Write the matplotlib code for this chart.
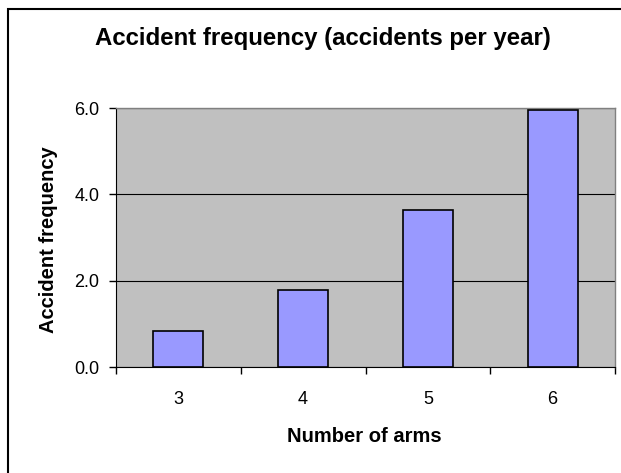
import matplotlib
matplotlib.use("Agg")
import matplotlib.pyplot as plt
from matplotlib.patches import Rectangle

categories = ["3", "4", "5", "6"]
values = [0.83, 1.78, 3.63, 5.96]
yticks = [0.0, 2.0, 4.0, 6.0]
ytick_labels = ["0.0", "2.0", "4.0", "6.0"]

plt.rcParams['font.family'] = ['Liberation Sans', 'DejaVu Sans']

W, H = 621, 473
fig = plt.figure(figsize=(W / 100, H / 100), dpi=100)
fig.patch.set_facecolor("white")

# outer chart border (extends beyond the right/bottom edges)
fig.patches.append(Rectangle((8 / W, -0.1), 1.2, (H - 9) / H + 0.1,
                             transform=fig.transFigure, fill=False,
                             edgecolor="black", linewidth=1.5))

ax = fig.add_axes([116 / W, (H - 367) / H, (615 - 116) / W, (367 - 108) / H])
ax.set_facecolor("#C0C0C0")
x = list(range(len(categories)))
ax.bar(x, values, width=0.4, color="#9999FF", edgecolor="black",
       linewidth=1.2, zorder=3)
ax.set_xlim(-0.5, len(categories) - 0.5)
ax.set_ylim(0, 6.0)
ax.set_yticks(yticks)
ax.set_yticklabels(ytick_labels)
ax.yaxis.grid(True, color="black", linewidth=0.8, zorder=1)
ax.set_axisbelow(True)

ax.set_xticks(x)
ax.set_xticklabels(categories)
ax.tick_params(axis="x", length=0, pad=17, labelsize=13)
ax.set_xticks([i - 0.5 for i in range(len(categories) + 1)], minor=True)
ax.tick_params(axis="x", which="minor", length=5, width=1, direction="out")
ax.tick_params(axis="y", length=5, width=1, direction="out", pad=7,
               labelsize=13)

for s in ["top", "right"]:
    ax.spines[s].set_color("#808080")
    ax.spines[s].set_linewidth(1)
ax.spines["left"].set_color("black")
ax.spines["bottom"].set_color("black")

fig.text(364 / W, 1 - 436 / H, "Number of arms", ha="center", va="center",
         fontsize=14.5, fontweight="bold")
fig.text(49 / W, 1 - 240 / H, "Accident frequency", ha="center",
         va="center", rotation=90, fontsize=14.5, fontweight="bold")

fig.text(323 / W, 1 - 38 / H, "Accident frequency (accidents per year)",
         ha="center", va="center", fontsize=17.3, fontweight="bold")

fig.savefig("out.png", dpi=100)
